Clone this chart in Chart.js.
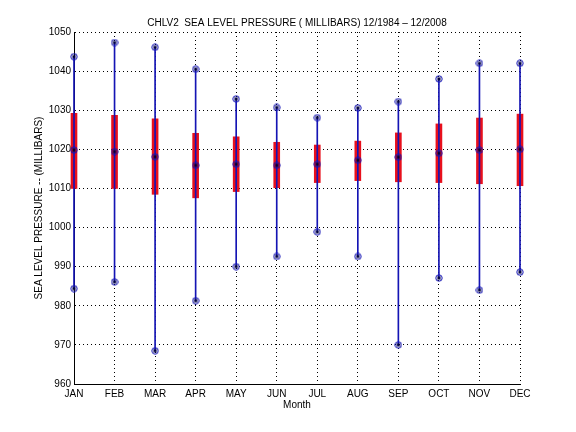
<!DOCTYPE html>
<html>
<head>
<meta charset="utf-8">
<script src="https://cdn.jsdelivr.net/npm/chart.js@4.4.0/dist/chart.umd.min.js"></script>
<style>
  html, body { margin: 0; padding: 0; background: #fff; }
  #wrap { width: 576px; height: 432px; }
</style>
</head>
<body>
<div id="wrap"><canvas id="slpChart"></canvas></div>
<script>
const months = ["JAN", "FEB", "MAR", "APR", "MAY", "JUN", "JUL", "AUG", "SEP", "OCT", "NOV", "DEC"];
const maxVals = [1043.7, 1047.3, 1046.1, 1040.5, 1032.9, 1030.7, 1028.1, 1030.6, 1032.2, 1038.0, 1042.0, 1042.0];
const meanVals = [1019.8, 1019.4, 1018.1, 1015.9, 1016.2, 1015.9, 1016.2, 1017.2, 1018.0, 1019.0, 1019.8, 1020.0];
const minVals = [984.4, 986.1, 968.5, 981.3, 990.0, 992.6, 998.9, 992.6, 970.0, 987.1, 984.0, 988.6];
const upperVals = [1029.2, 1028.7, 1027.8, 1024.1, 1023.2, 1021.8, 1021.1, 1022.1, 1024.2, 1026.5, 1028.0, 1029.0];
const lowerVals = [1010.0, 1010.0, 1008.5, 1007.6, 1009.2, 1010.2, 1011.5, 1012.0, 1011.7, 1011.5, 1011.2, 1010.7];
const yTicks = [960, 970, 980, 990, 1000, 1010, 1020, 1030, 1040, 1050];

const BLUE = "#1414b4";

// small circle-with-star marker, like matlab 'o' over '*'
const marker = document.createElement("canvas");
marker.width = 8;
marker.height = 8;
const m = marker.getContext("2d");
m.strokeStyle = BLUE;
m.lineWidth = 1;
m.beginPath();
m.arc(4, 4, 3.2, 0, Math.PI * 2);
m.stroke();
m.strokeStyle = "#000040";
m.beginPath();
m.moveTo(2, 4); m.lineTo(6, 4);
m.moveTo(4, 2); m.lineTo(4, 6);
m.moveTo(2.6, 2.6); m.lineTo(5.4, 5.4);
m.moveTo(5.4, 2.6); m.lineTo(2.6, 5.4);
m.stroke();

function markerSet(vals) {
  return {
    type: "line",
    data: vals,
    showLine: false,
    pointStyle: marker,
    pointRadius: 4,
    clip: false,
    order: 0,
  };
}

const font = { family: "'Liberation Sans', Arial, sans-serif", size: 10 };

new Chart(document.getElementById("slpChart").getContext("2d"), {
  type: "bar",
  data: {
    labels: months,
    datasets: [
      markerSet(maxVals),
      markerSet(meanVals),
      markerSet(minVals),
      {
        // min-max whisker
        data: months.map((_, i) => [minVals[i], maxVals[i]]),
        backgroundColor: BLUE,
        barThickness: 1,
        grouped: false,
        clip: false,
        order: 1,
      },
      {
        data: months.map((_, i) => [lowerVals[i], upperVals[i]]),
        backgroundColor: "#e8101c",
        barThickness: 6,
        grouped: false,
        clip: false,
        order: 2,
      },
    ],
  },
  options: {
    responsive: true,
    maintainAspectRatio: false,
    animation: false,
    layout: { padding: { left: 0, right: 56, top: 0, bottom: 0 } },
    plugins: {
      legend: { display: false },
      tooltip: { enabled: false },
      title: {
        display: true,
        fullSize: false,
        text: "CHLV2  SEA LEVEL PRESSURE ( MILLIBARS) 12/1984 \u2013 12/2008",
        color: "#000",
        font: { family: font.family, size: 10, weight: "normal" },
        padding: { top: 17, bottom: 3 },
      },
    },
    scales: {
      x: {
        type: "category",
        offset: false,
        grid: { color: "#000", lineWidth: 1, drawTicks: false, offset: false },
        border: { color: "#000", width: 1, dash: [1, 3] },
        ticks: { color: "#000", font: font, padding: 4, maxRotation: 0, autoSkip: false },
        title: { display: true, text: "Month", color: "#000", font: font, padding: { top: 0, bottom: 21 } },
        afterFit: (scale) => { scale.height = 48; },
      },
      y: {
        min: 960,
        max: 1050,
        afterBuildTicks: (scale) => { scale.ticks = yTicks.map((v) => ({ value: v })); },
        grid: { color: "#000", lineWidth: 1, drawTicks: false },
        border: { color: "#000", width: 1, dash: [1, 3] },
        ticks: { color: "#000", font: font, padding: 3, callback: (v) => String(v) },
        title: {
          display: true,
          text: "SEA LEVEL PRESSURE -- (MILLIBARS)",
          color: "#000",
          font: font,
          padding: { top: 33, bottom: 0 },
        },
        afterFit: (scale) => { scale.width = 74; },
      },
    },
  },
});
</script>
</body>
</html>
